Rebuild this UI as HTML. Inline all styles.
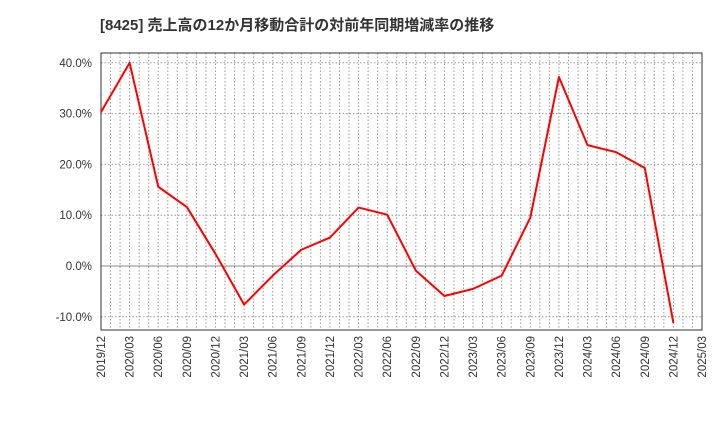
<!DOCTYPE html>
<html><head><meta charset="utf-8"><style>
body{margin:0;background:#fff;font-family:"Liberation Sans","Noto Sans CJK JP",sans-serif;}
</style></head><body>
<svg id="c" width="720" height="440" xmlns="http://www.w3.org/2000/svg">
<text x="100" y="30" font-size="15" font-weight="bold" fill="#333" font-family="Liberation Sans, Noto Sans CJK JP, sans-serif">[8425]  売上高の12か月移動合計の対前年同期増減率の推移</text>
<g id="grid"></g><g id="axes"></g><g id="series"></g>
</svg>
<script>
const categories=["2019/12","2020/03","2020/06","2020/09","2020/12","2021/03","2021/06","2021/09","2021/12","2022/03","2022/06","2022/09","2022/12","2023/03","2023/06","2023/09","2023/12","2024/03","2024/06","2024/09","2024/12","2025/03"];
const values=[30.3,40.0,15.6,11.6,2.4,-7.6,-1.9,3.2,5.6,11.5,10.1,-0.9,-5.9,-4.5,-1.9,9.5,37.2,23.8,22.4,19.3,-11.2];
const yTicks=[-10,0,10,20,30,40];
const yTickLabels=["-10.0%","0.0%","10.0%","20.0%","30.0%","40.0%"];
const L=101,R=702,T=53,B=330;
const ns="http://www.w3.org/2000/svg";
const x=i=>L+(R-L)*i/(categories.length-1);
const y=v=>266-v*5.08;
function mk(tag,attrs,parent,name){const e=document.createElementNS(ns,tag);for(const k in attrs)e.setAttribute(k,attrs[k]);document.getElementById(parent).appendChild(e);


return e;}
const months=(categories.length-1)*3;
for(let m=1;m<months;m++){const xx=L+(R-L)*m/months;mk('line',{x1:xx,x2:xx,y1:T,y2:B,stroke:'#999','stroke-dasharray':'1.5,2','stroke-width':1},'grid','v-grid-line');}
yTicks.forEach((t,i)=>{const yy=y(t);mk('line',{x1:L,x2:R,y1:yy,y2:yy,stroke:t===0?'#888':'#999','stroke-dasharray':t===0?'':'1.5,2','stroke-width':1},'grid','h-grid-line');
const tx=mk('text',{x:L-9,y:yy+4,'text-anchor':'end','font-size':11.5,fill:'#333'},'axes','y-tick-label');tx.textContent=yTickLabels[i];});
mk('rect',{x:L,y:T,width:R-L,height:B-T,fill:'none',stroke:'#333','stroke-width':1},'axes','plot-frame');
categories.forEach((c,i)=>{const xx=x(i);const tx=mk('text',{x:0,y:0,transform:`translate(${xx+4},${B+6}) rotate(-90)`,'text-anchor':'end','font-size':11.5,fill:'#333'},'axes','x-tick-label');tx.textContent=c;});
mk('polyline',{points:values.map((v,i)=>x(i)+','+y(v)).join(' '),fill:'none',stroke:'#f00','stroke-width':2,'stroke-linejoin':'round'},'series','series-line');
</script>
</body></html>
